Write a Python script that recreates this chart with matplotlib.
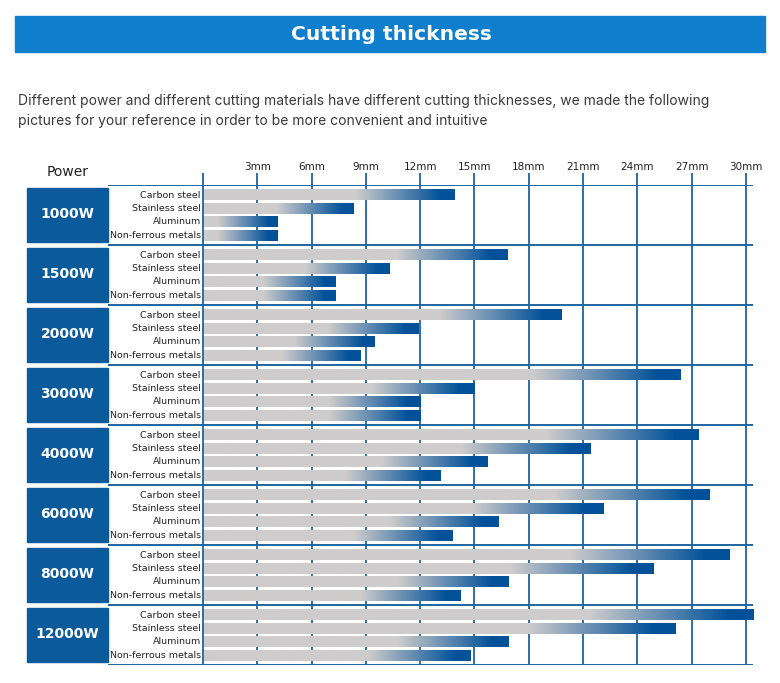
import numpy as np
import matplotlib
matplotlib.use("Agg")
import matplotlib.pyplot as plt
from matplotlib.patches import Rectangle

# values (mm)
powers = ['1000W', '1500W', '2000W', '3000W', '4000W', '6000W', '8000W', '12000W']
materials = ['Carbon steel', 'Stainless steel', 'Aluminum', 'Non-ferrous metals']
carbon = [13.9, 16.8, 19.8, 26.4, 27.4, 28.0, 29.1, 30.4]
stainless = [8.3, 10.3, 11.9, 15.0, 21.4, 22.1, 24.9, 26.1]
aluminum = [4.1, 7.3, 9.5, 12.0, 15.7, 16.3, 16.9, 16.9]
nonferrous = [4.1, 7.3, 8.7, 12.0, 13.1, 13.8, 14.2, 14.8]
ticks = [3, 6, 9, 12, 15, 18, 21, 24, 27, 30]

line_c = '#1f65a0'
box_c = '#0b5a9c'
gray = np.array([0.81, 0.80, 0.80])
blue = np.array([0.01, 0.32, 0.60])


def bar_image(length, n=300):
    # gray bar that turns blue toward its end
    x = np.linspace(0, length, n)
    glen = 2.4 + 0.22 * length
    t = np.clip((x - (length - glen)) / (glen * 0.85), 0, 1)
    rgb = gray[None, :] * (1 - t[:, None]) + blue[None, :] * t[:, None]
    return rgb[None, :, :]


W, H = 780, 683
fig = plt.figure(figsize=(W / 100, H / 100), dpi=100)

# header banner
fig.patches.append(Rectangle((15 / W, 1 - 52 / H), 750 / W, 36 / H,
                             transform=fig.transFigure, color='#0f7ecd', zorder=0))
fig.text(391 / W, 1 - 34.5 / H, 'Cutting thickness', color='white', fontsize=14.6,
         fontweight='bold', ha='center', va='center', family='DejaVu Sans')
fig.text(18 / W, 1 - 100.5 / H,
         'Different power and different cutting materials have different cutting thicknesses, we made the following',
         fontsize=10.0, color='#3a3a3a', ha='left', va='center', family='Inter')
fig.text(18 / W, 1 - 121.5 / H,
         'pictures for your reference in order to be more convenient and intuitive',
         fontsize=10.0, color='#3a3a3a', ha='left', va='center', family='Inter')

ax = fig.add_axes([27 / W, 1 - 664.5 / H, (753 - 27) / W, (664.5 - 184.5) / H])
ax.set_xlim(-9.72, 30.39)
ax.set_ylim(8, 0)
ax.axis('off')

left_line = -5.25
top_v = -0.19

# vertical grid lines (behind bars) and tick labels
for t in ticks:
    ax.vlines(t, top_v, 8.0, color=line_c, lw=1.3, zorder=1, clip_on=False)
    ax.text(t, -0.30, f'{t}mm', ha='center', va='center', fontsize=7.5,
            color='#222222', clip_on=False)
ax.vlines(0, top_v, 8.0, color=line_c, lw=1.3, zorder=4, clip_on=False)

ax.text(-7.5, -0.215, 'Power', ha='center', va='center', fontsize=10,
        color='#222222', clip_on=False)

# group separators
for g in range(len(powers) + 1):
    ax.hlines(g, left_line, 30.39, color=line_c, lw=1.4, zorder=3)

series = [carbon, stainless, aluminum, nonferrous]
bh = 0.168
for g, p in enumerate(powers):
    ax.add_patch(Rectangle((-9.72, g + 0.053), 9.72 + left_line, 0.9,
                           color=box_c, zorder=2, clip_on=False))
    ax.text((-9.72 + left_line) / 2, g + 0.5, p, color='white', fontsize=10,
            fontweight='heavy', ha='center', va='center')
    for i, (m, vals) in enumerate(zip(materials, series)):
        yc = g + 0.175 + 0.225 * i
        L = vals[g]
        ax.imshow(bar_image(L), extent=[0, L, yc + bh / 2, yc - bh / 2],
                  aspect='auto', interpolation='bilinear', zorder=2)
        ax.text(-0.12, yc, m, ha='right', va='center', fontsize=6.8,
                color='#222222')

ax.set_xlim(-9.72, 30.39)
ax.set_ylim(8, 0)

fig.savefig('out.png', dpi=100)
